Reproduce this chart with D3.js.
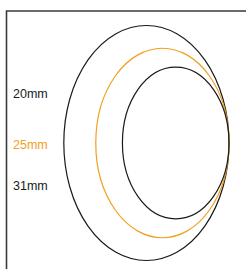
<!DOCTYPE html>
<html><head><meta charset="utf-8">
<script src="https://cdn.jsdelivr.net/npm/d3@7"></script>
<style>html,body{margin:0;padding:0;background:#fff;}svg{display:block;}</style>
</head><body>
<script>
const labels = ["20mm", "25mm", "31mm"];
const diameters = [20, 25, 31];
const highlight = ["#1a1a1a", "#f0a01e", "#1a1a1a"];

const W = 246, H = 269;
const svg = d3.select("body").append("svg").attr("width", W).attr("height", H);

// frame
svg.append("path").attr("d", `M6.5,${H} L6.5,11 L${W},11`)
  .attr("fill", "none").attr("stroke", "#3a3a3a").attr("stroke-width", 1.6);

const ry = d3.scaleLinear().domain([0, 31]).range([0, 117.5]);
const rx = d3.scaleLinear().domain([0, 31]).range([0, 82.6]);
const rightEdge = 229, cy = 143;

const order = [2, 1, 0];
svg.selectAll("ellipse").data(order).enter().append("ellipse")
  .attr("cx", i => rightEdge - rx(diameters[i]))
  .attr("cy", cy)
  .attr("rx", i => rx(diameters[i]))
  .attr("ry", i => ry(diameters[i]))
  .attr("fill", "none")
  .attr("stroke", i => highlight[i])
  .attr("stroke-width", 1.2);

const ys = [98, 148.5, 190];
svg.selectAll("text.lbl").data(labels).enter().append("text")
  .attr("class", "lbl")
  .attr("x", 13)
  .attr("y", (d, i) => ys[i])
  .attr("font-family", "Liberation Sans, Arial, sans-serif")
  .attr("font-size", 12.5)
  .attr("fill", (d, i) => highlight[i])
  .text(d => d);
</script>
</body></html>
